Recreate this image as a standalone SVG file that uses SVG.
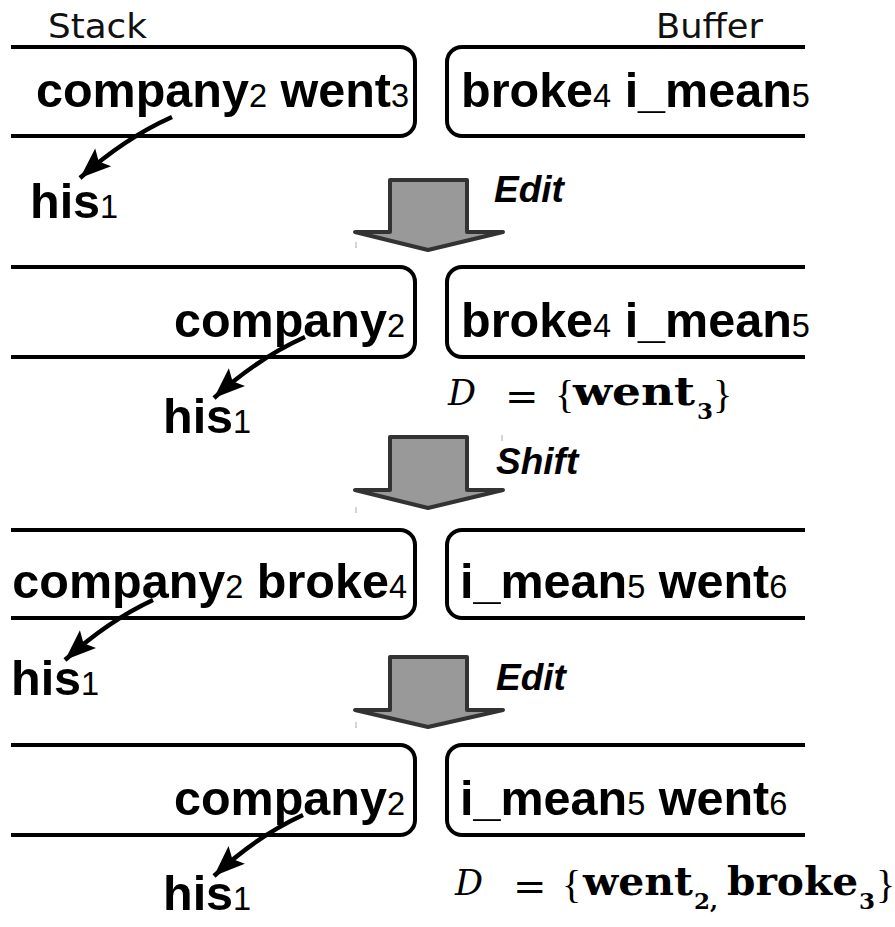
<svg xmlns="http://www.w3.org/2000/svg" width="895" height="927" viewBox="0 0 895 927">
  <style>
    .lbl { font-family: "DejaVu Sans", sans-serif; font-size: 33px; fill: #111; }
    .w { font-family: "Liberation Sans", Arial, sans-serif; font-weight: bold; font-size: 48.5px; fill: #000; }
    .s { font-weight: normal; font-size: 32.5px; }
    .op { font-family: "Liberation Sans", Arial, sans-serif; font-weight: bold; font-style: italic; font-size: 37px; fill: #000; }
    .box { fill: none; stroke: #000; stroke-width: 4; stroke-linejoin: round; }
    .dep { fill: none; stroke: #000; stroke-width: 4.5; }
    .big { fill: #999; stroke: #333; stroke-width: 4; stroke-linejoin: round; }
    .tick { stroke: #aaa; stroke-width: 1; }
    .mi { font-family: "DejaVu Serif", serif; font-style: italic; font-size: 35px; fill: #000; }
    .eq { font-family: "DejaVu Serif", serif; font-size: 40px; fill: #000; }
    .mb { font-family: "DejaVu Serif", serif; font-weight: bold; font-size: 40px; fill: #000; }
    .sb { font-family: "DejaVu Serif", serif; font-weight: bold; font-size: 23px; fill: #000; }
    .br { font-family: "Liberation Serif", serif; font-size: 40px; fill: #000; }
  </style>
  <defs>
    <marker id="head" markerUnits="userSpaceOnUse" markerWidth="36" markerHeight="30" viewBox="-33 -15 36 30" refX="0" refY="0" orient="auto">
      <path d="M0,0 L-31,-12 L-25,0 L-31,12 Z" fill="#000"/>
    </marker>
  </defs>

  <!-- column headings -->
  <g id="headings">
    <text class="lbl" x="48" y="38" textLength="99" lengthAdjust="spacingAndGlyphs">Stack</text>
    <text class="lbl" x="656" y="38" textLength="107" lengthAdjust="spacingAndGlyphs">Buffer</text>
  </g>

  <!-- step 1 -->
  <g id="stack1">
    <path class="box" d="M11,47 H400 A15,15 0 0 1 415,62 V121 A15,15 0 0 1 400,136 H11"/>
    <text class="w" x="409" y="107" text-anchor="end">company<tspan class="s">2</tspan> went<tspan class="s">3</tspan></text>
  </g>
  <g id="buffer1">
    <path class="box" d="M805,47 H462 A15,15 0 0 0 447,62 V121 A15,15 0 0 0 462,136 H805"/>
    <text class="w" x="461" y="107">broke<tspan class="s">4</tspan> i_mean<tspan class="s">5</tspan></text>
  </g>
  <g id="his1a">
    <text class="w" x="30" y="218">his<tspan class="s">1</tspan></text>
  </g>

  <!-- transition arrows -->
  <g id="op1">
    <polygon class="big" points="390,180 467,180 467,232 503,232 428,250 355,232 390,232"/>
    <text class="op" x="494" y="202">Edit</text>
    <line class="tick" x1="356" y1="242" x2="356" y2="248"/>
  </g>

  <!-- step 2 -->
  <g id="stack2">
    <path class="box" d="M11,267 H400 A15,15 0 0 1 415,282 V342 A15,15 0 0 1 400,357 H11"/>
    <text class="w" x="405" y="337" text-anchor="end">company<tspan class="s">2</tspan></text>
  </g>
  <g id="buffer2">
    <path class="box" d="M805,267 H462 A15,15 0 0 0 447,282 V342 A15,15 0 0 0 462,357 H805"/>
    <text class="w" x="461" y="337">broke<tspan class="s">4</tspan> i_mean<tspan class="s">5</tspan></text>
  </g>
  <g id="his1b">
    <text class="w" x="163" y="433">his<tspan class="s">1</tspan></text>
  </g>
  <g id="deleted1">
    <text class="mi" x="448" y="405">D</text>
    <text class="eq" x="505" y="410">=</text>
    <text class="br" x="555" y="408">{</text>
    <text class="mb" x="573" y="405" textLength="122" lengthAdjust="spacingAndGlyphs">went</text>
    <text class="sb" x="697" y="419">3</text>
    <text class="br" x="713" y="408">}</text>
  </g>

  <g id="op2">
    <polygon class="big" points="390,437 467,437 467,490 503,490 428,508 355,490 390,490"/>
    <text class="op" x="496" y="474">Shift</text>
    <line class="tick" x1="356" y1="507" x2="356" y2="513"/>
    <line class="tick" x1="502" y1="435" x2="502" y2="441"/>
  </g>

  <!-- step 3 -->
  <g id="stack3">
    <path class="box" d="M11,530 H400 A15,15 0 0 1 415,545 V603 A15,15 0 0 1 400,618 H11"/>
    <text class="w" x="407" y="598" text-anchor="end">company<tspan class="s">2</tspan> broke<tspan class="s">4</tspan></text>
  </g>
  <g id="buffer3">
    <path class="box" d="M805,530 H462 A15,15 0 0 0 447,545 V603 A15,15 0 0 0 462,618 H805"/>
    <text class="w" x="460" y="598">i_mean<tspan class="s">5</tspan> went<tspan class="s">6</tspan></text>
  </g>
  <g id="his1c">
    <text class="w" x="11" y="695">his<tspan class="s">1</tspan></text>
  </g>

  <g id="op3">
    <polygon class="big" points="390,657 467,657 467,710 503,710 428,727 355,710 390,710"/>
    <text class="op" x="496" y="690">Edit</text>
    <line class="tick" x1="356" y1="722" x2="356" y2="728"/>
  </g>

  <!-- step 4 -->
  <g id="stack4">
    <path class="box" d="M11,745 H400 A15,15 0 0 1 415,760 V820 A15,15 0 0 1 400,835 H11"/>
    <text class="w" x="405" y="815" text-anchor="end">company<tspan class="s">2</tspan></text>
  </g>
  <g id="buffer4">
    <path class="box" d="M805,745 H462 A15,15 0 0 0 447,760 V820 A15,15 0 0 0 462,835 H805"/>
    <text class="w" x="460" y="815">i_mean<tspan class="s">5</tspan> went<tspan class="s">6</tspan></text>
  </g>
  <g id="his1d">
    <text class="w" x="163" y="910">his<tspan class="s">1</tspan></text>
  </g>
  <g id="deleted2">
    <text class="mi" x="455" y="895">D</text>
    <text class="eq" x="513" y="900">=</text>
    <text class="br" x="562" y="898">{</text>
    <text class="mb" x="583" y="895" textLength="110" lengthAdjust="spacingAndGlyphs">went</text>
    <text class="sb" x="694" y="909">2,</text>
    <text class="mb" x="727" y="895" textLength="131" lengthAdjust="spacingAndGlyphs">broke</text>
    <text class="sb" x="859" y="909">3</text>
    <text class="br" x="876" y="898">}</text>
  </g>

  <!-- dependency arcs (head -> dependent) -->
  <g id="connectors">
    <path class="dep" d="M172,117 Q125,138 80,178" marker-end="url(#head)"/>
    <path class="dep" d="M305,337 Q258,358 214,398" marker-end="url(#head)"/>
    <path class="dep" d="M153,600 Q108,621 65,660" marker-end="url(#head)"/>
    <path class="dep" d="M303,815 Q257,836 214,876" marker-end="url(#head)"/>
  </g>
</svg>
